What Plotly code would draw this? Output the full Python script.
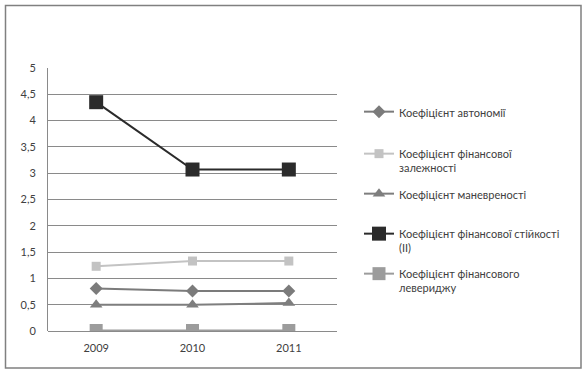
import plotly.graph_objects as go

years = ["2009", "2010", "2011"]
names = [
    "Коефіцієнт автономії",
    "Коефіцієнт фінансової<br>залежності",
    "Коефіцієнт маневреності",
    "Коефіцієнт фінансової стійкості<br>(II)",
    "Коефіцієнт фінансового<br>левериджу",
]
autonomy = [0.81, 0.76, 0.76]
dependence = [1.23, 1.33, 1.33]
maneuver = [0.50, 0.50, 0.53]
stability = [4.35, 3.07, 3.07]
leverage = [0.01, 0.01, 0.01]
series = [autonomy, dependence, maneuver, stability, leverage]

colors = ["#7b7b7b", "#c3c3c3", "#7e7e7e", "#2b2b2b", "#9c9c9c"]
symbols = ["diamond", "square", "triangle-up", "square", "square"]
msizes = [10, 9, 11, 14, 13]
legend_y = [107, 149, 189, 229, 269]  # top of each legend item, px

W, H = 587, 373
L, R, T, B = 48, 337, 68, 331

fig = go.Figure()
for i, (nm, vals) in enumerate(zip(names, series)):
    fig.add_trace(go.Scatter(
        x=years, y=vals, name=nm, mode="lines+markers",
        line=dict(color=colors[i], width=2),
        marker=dict(color=colors[i], symbol=symbols[i], size=msizes[i]),
        legend="legend" if i == 0 else f"legend{i+1}",
    ))

font = dict(family="Lato, Carlito, sans-serif", size=11, color="#404040")
layout = dict(
    width=W, height=H,
    margin=dict(l=L, r=W - R, t=T, b=H - B, autoexpand=False),
    paper_bgcolor="white", plot_bgcolor="white",
    separators=", ",
    font=font,
    xaxis=dict(type="category", range=[-0.5, 2.5], showgrid=False,
               showline=False, ticks="", tickfont=dict(size=11, color="#404040"),
               zeroline=False, ticklabelstandoff=9),
    yaxis=dict(range=[0, 5], dtick=0.5, tick0=0, showgrid=True,
               gridcolor="#8a8a8a", gridwidth=1, showline=True,
               linecolor="#8a8a8a", linewidth=1, zeroline=True,
               zerolinecolor="#8a8a8a", zerolinewidth=1, ticks="",
               tickfont=dict(size=11, color="#404040"), ticklabelstandoff=9),
    showlegend=True,
    shapes=[dict(type="rect", xref="paper", yref="paper",
                 x0=(5.5 - L) / (R - L), x1=(581 - L) / (R - L),
                 y0=(B - 368) / (B - T), y1=(B - 5.5) / (B - T),
                 line=dict(color="#808080", width=1.5), fillcolor="rgba(0,0,0,0)",
                 layer="below")],
)
for i, yp in enumerate(legend_y):
    key = "legend" if i == 0 else f"legend{i+1}"
    layout[key] = dict(
        xref="container", yref="container",
        x=359 / W, y=1 - (yp - 9) / H, xanchor="left", yanchor="top",
        bgcolor="rgba(0,0,0,0)", borderwidth=0, itemwidth=30,
        valign="top", font=font, itemclick=False, itemdoubleclick=False,
    )
fig.update_layout(**layout)
fig.write_html("out.html", config=dict(displayModeBar=False),
               post_script="document.body.style.margin='0';document.body.style.overflow='hidden';")
